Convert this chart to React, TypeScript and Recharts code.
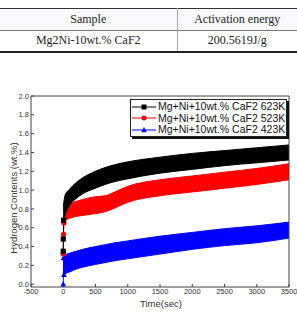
import { ComposedChart, Area, Line, XAxis, YAxis, ReferenceLine } from 'recharts';

// sample times (s) where the band edges were read
const times = [0, 30, 100, 200, 300, 500, 650, 800, 1000, 1500, 2000, 2500, 3000, 3500];

// 623K: lower / upper edge of the measured band (wt.%)
const k623Lo = [0.67, 0.74, 0.84, 0.91, 0.96, 1.02, 1.06, 1.09, 1.12, 1.18, 1.22, 1.26, 1.29, 1.32];
const k623Hi = [0.82, 0.95, 1.01, 1.08, 1.13, 1.2, 1.24, 1.27, 1.3, 1.35, 1.39, 1.42, 1.45, 1.48];

// 523K
const k523Lo = [0.64, 0.67, 0.7, 0.72, 0.73, 0.75, 0.77, 0.81, 0.87, 0.94, 0.98, 1.02, 1.06, 1.11];
const k523Hi = [0.8, 0.84, 0.86, 0.88, 0.9, 0.93, 0.94, 0.98, 1.04, 1.11, 1.15, 1.19, 1.23, 1.28];

// 423K
const k423Lo = [0.08, 0.11, 0.13, 0.16, 0.18, 0.21, 0.23, 0.25, 0.27, 0.32, 0.37, 0.41, 0.44, 0.49];
const k423Hi = [0.28, 0.31, 0.33, 0.35, 0.37, 0.4, 0.42, 0.44, 0.46, 0.51, 0.55, 0.59, 0.62, 0.66];

// first few logged points before each run settles
const start623 = [
  { t: 0, v: 0.35 },
  { t: 0, v: 0.48 },
  { t: 5, v: 0.68 },
];
const start523 = [
  { t: 0, v: 0.32 },
  { t: 5, v: 0.53 },
  { t: 10, v: 0.65 },
];
const start423 = [
  { t: 0, v: 0.0 },
  { t: 5, v: 0.28 },
  { t: 10, v: 0.1 },
];

const seriesNames = ['Mg+Ni+10wt.% CaF2 623K', 'Mg+Ni+10wt.% CaF2 523K', 'Mg+Ni+10wt.% CaF2 423K'];
const seriesColors = ['#000000', '#ff0000', '#0000ff'];
const seriesShapes = ['square', 'circle', 'triangle'];

const xTicks = [-500, 0, 500, 1000, 1500, 2000, 2500, 3000, 3500];
const yTicks = [0, 0.2, 0.4, 0.6, 0.8, 1.0, 1.2, 1.4, 1.6, 1.8, 2.0];

const tableHead = ['Sample', 'Activation energy'];
const tableRow = ['Mg2Ni-10wt.% CaF2', '200.5619J/g'];

const rows = times.map((t, i) => ({
  t,
  k623: [k623Lo[i], k623Hi[i]],
  k523: [k523Lo[i], k523Hi[i]],
  k423: [k423Lo[i], k423Hi[i]],
}));

const sans = '"Liberation Sans", Arial, sans-serif';

function Marker({ shape, color, cx, cy, r = 2.6 }: { shape: string; color: string; cx: number; cy: number; r?: number }) {
  if (shape === 'square') {
    return <rect x={cx - r} y={cy - r} width={r * 2} height={r * 2} fill={color} />;
  }
  if (shape === 'circle') {
    return <circle cx={cx} cy={cy} r={r} fill={color} />;
  }
  return (
    <polygon
      points={`${cx},${cy - r - 0.5} ${cx - r - 0.3},${cy + r - 0.3} ${cx + r + 0.3},${cy + r - 0.3}`}
      fill={color}
    />
  );
}

const dotFor = (idx: number) => (props: any) => {
  const { cx, cy, key } = props;
  if (cx == null || cy == null) return <g key={key} />;
  return (
    <g key={key}>
      <Marker shape={seriesShapes[idx]} color={seriesColors[idx]} cx={cx} cy={cy} />
    </g>
  );
};

function SampleTable() {
  const cell: React.CSSProperties = {
    padding: 0,
    textAlign: 'center',
    fontFamily: '"Liberation Serif", "Times New Roman", serif',
    fontSize: 12,
    color: '#222',
  };
  return (
    <table
      style={{
        position: 'absolute',
        left: 0,
        top: 8,
        width: 297,
        borderCollapse: 'collapse',
        tableLayout: 'fixed',
        borderTop: '1.5px solid #333',
        borderBottom: '2px solid #222',
      }}
    >
      <colgroup>
        <col style={{ width: 177 }} />
        <col style={{ width: 120 }} />
      </colgroup>
      <tbody>
        <tr style={{ height: 22, background: '#f9f9fb', borderBottom: '1px solid #777' }}>
          <td style={{ ...cell, borderRight: '1px solid #aaa' }}>{tableHead[0]}</td>
          <td style={cell}>{tableHead[1]}</td>
        </tr>
        <tr style={{ height: 21 }}>
          <td style={{ ...cell, borderRight: '1px solid #aaa' }}>{tableRow[0]}</td>
          <td style={cell}>{tableRow[1]}</td>
        </tr>
      </tbody>
    </table>
  );
}

function LegendBox() {
  return (
    <div
      style={{
        position: 'absolute',
        left: 130,
        top: 99,
        width: 155,
        height: 35,
        border: '1px solid #222',
        boxShadow: '2px 2px 0 #111',
        background: '#fff',
        paddingTop: 1,
        fontFamily: sans,
        fontSize: 10.5,
        color: '#111',
      }}
    >
      {seriesNames.map((name, i) => (
        <div key={name} style={{ display: 'flex', alignItems: 'center', height: 11.5, lineHeight: '11.5px' }}>
          <svg width={24} height={10} style={{ marginLeft: 1, marginRight: 2 }}>
            <line x1={0} y1={5} x2={24} y2={5} stroke={seriesColors[i]} strokeWidth={1} />
            <Marker shape={seriesShapes[i]} color={seriesColors[i]} cx={12} cy={5} r={2.5} />
          </svg>
          <span style={{ whiteSpace: 'nowrap' }}>{name}</span>
        </div>
      ))}
    </div>
  );
}

export default function App() {
  const tick = { fontSize: 7.5, fill: '#333', fontFamily: sans };
  return (
    <div style={{ position: 'absolute', left: 0, top: 0, width: 297, height: 312, background: '#fff', overflow: 'hidden' }}>
      <SampleTable />

      <div style={{ position: 'absolute', left: 0, top: 85 }}>
        <ComposedChart width={297} height={227} data={rows} margin={{ top: 11, right: 8, bottom: 0, left: 0 }}>
          <XAxis
            type="number"
            dataKey="t"
            domain={[-500, 3500]}
            ticks={xTicks}
            allowDataOverflow
            height={25}
            tickSize={-3}
            tickMargin={5}
            stroke="#444"
            tick={tick}
            interval={0}
          />
          <YAxis
            type="number"
            domain={[-0.03, 2]}
            ticks={yTicks}
            allowDataOverflow
            width={31}
            tickSize={-3}
            tickMargin={5}
            stroke="#444"
            tick={tick}
            interval={0}
            tickFormatter={(v: number) => v.toFixed(1)}
          />
          <ReferenceLine y={2} stroke="#444" />
          <ReferenceLine x={3500} stroke="#444" />

          <Area type="monotone" dataKey="k423" stroke={seriesColors[2]} strokeWidth={1} fill={seriesColors[2]} fillOpacity={1} isAnimationActive={false} dot={false} activeDot={false} />
          <Area type="monotone" dataKey="k523" stroke={seriesColors[1]} strokeWidth={1} fill={seriesColors[1]} fillOpacity={1} isAnimationActive={false} dot={false} activeDot={false} />
          <Area type="monotone" dataKey="k623" stroke={seriesColors[0]} strokeWidth={1} fill={seriesColors[0]} fillOpacity={1} isAnimationActive={false} dot={false} activeDot={false} />

          <Line data={start423} dataKey="v" stroke={seriesColors[2]} strokeWidth={1} dot={dotFor(2)} activeDot={false} isAnimationActive={false} />
          <Line data={start523} dataKey="v" stroke={seriesColors[1]} strokeWidth={1} dot={dotFor(1)} activeDot={false} isAnimationActive={false} />
          <Line data={start623} dataKey="v" stroke={seriesColors[0]} strokeWidth={1} dot={dotFor(0)} activeDot={false} isAnimationActive={false} />
        </ComposedChart>
      </div>

      <LegendBox />

      <div
        style={{
          position: 'absolute',
          left: 13,
          top: 198,
          transform: 'translate(-50%, -50%) rotate(-90deg)',
          whiteSpace: 'nowrap',
          fontFamily: sans,
          fontSize: 9.5,
          color: '#333',
        }}
      >
        Hydrogen Contents (wt.%)
      </div>
      <div
        style={{
          position: 'absolute',
          left: 161,
          top: 303,
          transform: 'translate(-50%, -50%)',
          whiteSpace: 'nowrap',
          fontFamily: sans,
          fontSize: 9.5,
          color: '#333',
        }}
      >
        Time(sec)
      </div>
    </div>
  );
}
